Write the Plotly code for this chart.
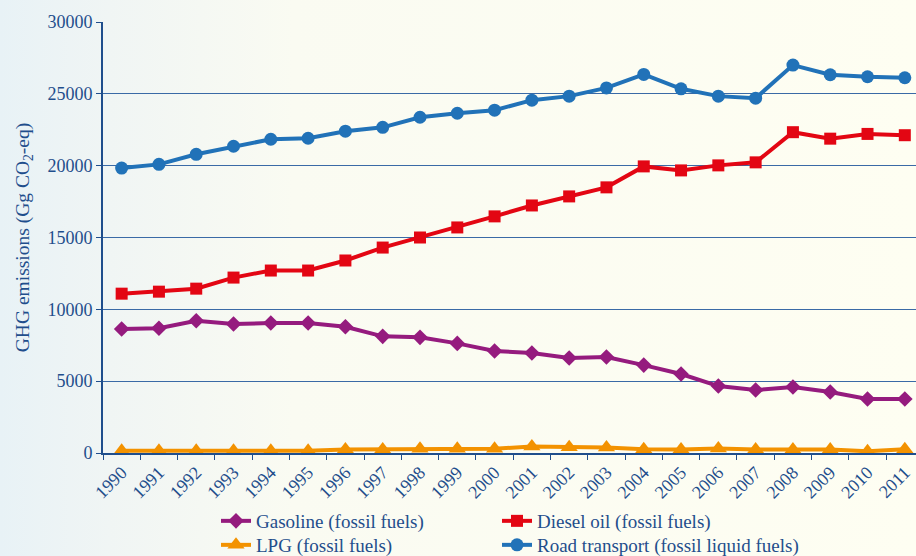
import base64
import plotly.graph_objects as go

years = [str(y) for y in range(1990, 2012)]

gasoline = [8630, 8680, 9210, 8980, 9050, 9050, 8790, 8120, 8050, 7630,
            7100, 6960, 6610, 6680, 6120, 5500, 4660, 4380, 4590, 4250,
            3760, 3760]
diesel = [11090, 11230, 11440, 12210, 12700, 12700, 13400, 14300, 15000, 15700,
          16470, 17230, 17860, 18490, 19950, 19670, 20020, 20230, 22330, 21880,
          22210, 22120]
lpg = [150, 150, 150, 150, 150, 150, 250, 250, 300, 300,
       300, 450, 400, 380, 260, 250, 320, 240, 240, 240,
       120, 260]
road = [19830, 20090, 20790, 21350, 21840, 21910, 22400, 22670, 23370, 23650,
        23860, 24560, 24840, 25410, 26350, 25350, 24840, 24700, 27000, 26330,
        26190, 26120]

y_ticks = [0, 5000, 10000, 15000, 20000, 25000, 30000]

NAVY = "#1f4e8c"
FONT = "Liberation Serif"

W, H = 916, 556
ML, MR, MT, MB = 103, 0, 22, 103
pw, ph = W - ML - MR, H - MT - MB


def px_x(x):
    return (x - ML) / pw


def px_y(y):
    return (H - MB - y) / ph


# name, values, colour, marker, size, legend id, legend position (px)
series = [
    ("Gasoline (fossil fuels)", gasoline, "#951b7e", "diamond", 12, "legend", (216, 502)),
    ("Diesel oil (fossil fuels)", diesel, "#e30613", "square", 12, "legend2", (497, 502)),
    ("LPG (fossil fuels)", lpg, "#f39200", "triangle-up", 15, "legend3", (216, 526)),
    ("Road transport (fossil liquid fuels)", road, "#2172b8", "circle", 13, "legend4", (497, 526)),
]

fig = go.Figure()
legends = {}
for name, vals, color, symbol, size, leg, (lx, ly) in series:
    fig.add_trace(go.Scatter(
        x=years, y=vals, name=name, mode="lines+markers",
        line=dict(color=color, width=4),
        marker=dict(color=color, symbol=symbol, size=size),
        legend=leg,
    ))
    legends[leg] = dict(
        x=px_x(lx), y=px_y(ly), orientation="v",
        yanchor="top", xanchor="left",
        font=dict(family=FONT, size=19, color=NAVY),
        bgcolor="rgba(0,0,0,0)", itemsizing="trace",
    )

# soft left-to-right background wash
svg = (
    '<svg xmlns="http://www.w3.org/2000/svg" width="916" height="556" '
    'preserveAspectRatio="none">'
    '<defs><linearGradient id="g" x1="0" y1="0" x2="1" y2="0">'
    '<stop offset="0" stop-color="#e8f2f6"/>'
    '<stop offset="0.12" stop-color="#f0f5f4"/>'
    '<stop offset="0.32" stop-color="#fafbf2"/>'
    '<stop offset="1" stop-color="#fefef2"/>'
    '</linearGradient></defs>'
    '<rect width="916" height="556" fill="url(#g)"/></svg>'
)
src = "data:image/svg+xml;base64," + base64.b64encode(svg.encode()).decode()

fig.add_layout_image(dict(
    source=src, xref="paper", yref="paper",
    x=-ML / pw, y=1 + MT / ph, sizex=W / pw, sizey=H / ph,
    xanchor="left", yanchor="top", sizing="stretch", layer="below",
))

fig.update_layout(
    width=W, height=H,
    margin=dict(l=ML, r=MR, t=MT, b=MB, pad=0, autoexpand=False),
    paper_bgcolor="#fefef2",
    plot_bgcolor="rgba(0,0,0,0)",
    font=dict(family=FONT, color=NAVY, size=18),
    showlegend=True,
    **legends,
    xaxis=dict(
        type="category", range=[-0.5, 21.3],
        tickangle=-45, tickson="boundaries",
        ticks="outside", ticklen=5, tickwidth=1, tickcolor=NAVY,
        showline=True, linecolor=NAVY, linewidth=2,
        showgrid=False, zeroline=False,
        tickfont=dict(family=FONT, size=18, color=NAVY),
    ),
    yaxis=dict(
        range=[0, 30000], tickvals=y_ticks,
        ticktext=[str(v) for v in y_ticks],
        ticks="outside", ticklen=5, tickwidth=1, tickcolor=NAVY,
        showline=True, linecolor=NAVY, linewidth=2,
        showgrid=True, gridcolor="#3a6aa6", gridwidth=1,
        zeroline=False,
        tickfont=dict(family=FONT, size=18, color=NAVY),
        title=dict(text="GHG emissions (Gg CO<sub>2</sub>-eq)",
                   font=dict(family=FONT, size=19.5, color=NAVY), standoff=13),
    ),
)

fig.write_html("out.html")
